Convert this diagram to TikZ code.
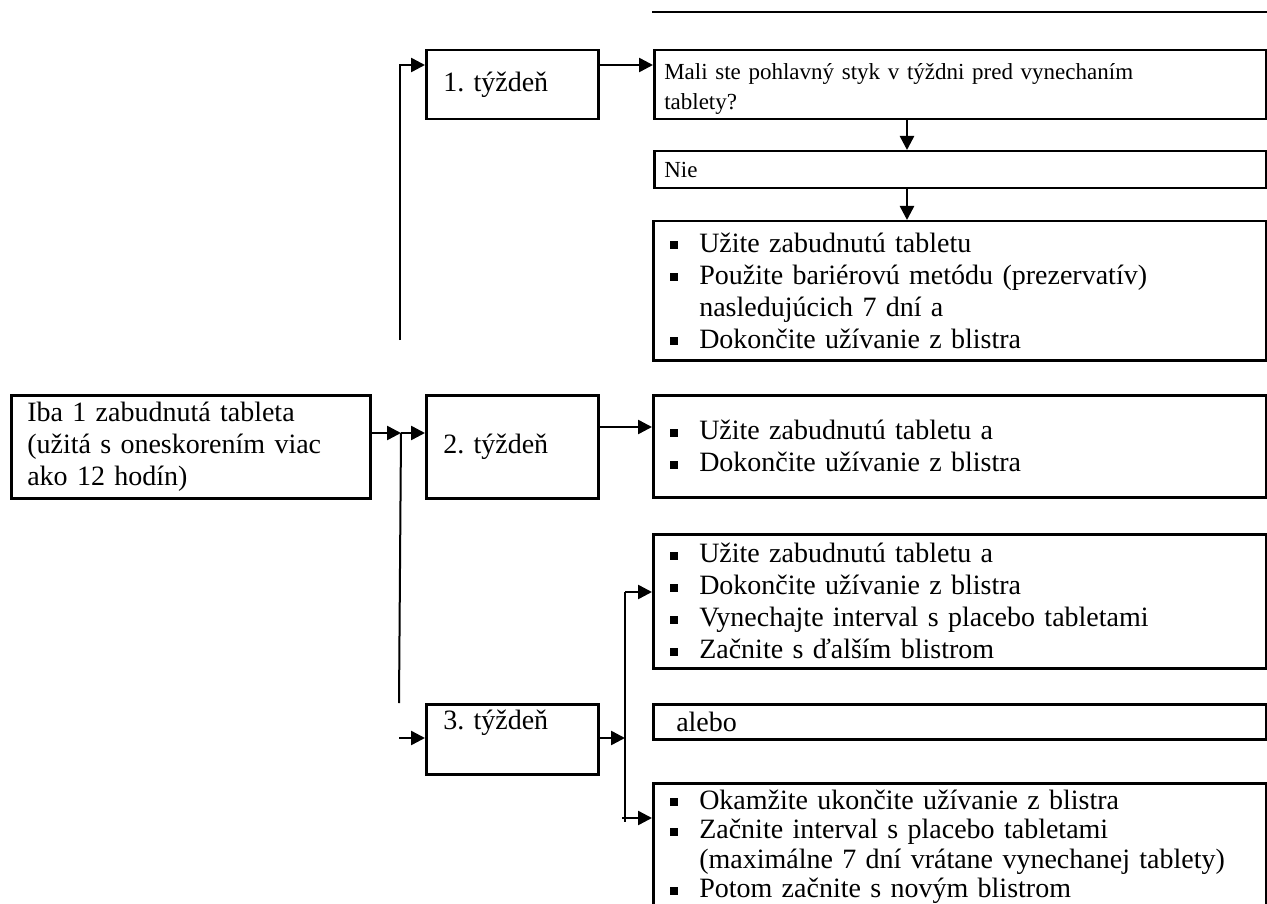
\documentclass[tikz,border=0pt]{standalone}
\usepackage{fontspec}
\setmainfont{Liberation Serif}
\usetikzlibrary{arrows.meta}

\newcommand\bul{\makebox[29pt][l]{\rule[3pt]{8pt}{8pt}}}
\newcommand\ind{\hspace*{29pt}}

\begin{document}
\frenchspacing
\begin{tikzpicture}[
x=1pt, y=-1pt,
font=\fontsize{28}{32}\selectfont,
box/.style={
draw,
line width=2.5pt,
anchor=north west,
align=left,
inner ysep=2pt,
inner xsep=17pt,
},
wide/.style={
box,
minimum width=613pt,
text width=579pt,
},
week/.style={
box,
minimum width=172pt,
text width=138pt,
},
small/.style={
box,
minimum width=612pt,
text width=592pt,
inner xsep=10pt,
font=\fontsize{23}{30}\selectfont,
},
arr/.style={line width=2.5pt, -{Triangle[length=14pt, width=14pt]}},
conn/.style={line width=2pt},
]

\useasboundingbox (0,0) rectangle (1267,904);
\clip (0,0) rectangle (1267,904);

% start
\node [box, minimum width=359pt, minimum height=103pt, text width=327pt,
inner xsep=16pt] (main) at (10,394)
{Iba 1 zabudnutá tableta\\(užitá s oneskorením viac\\ako 12 hodín)};

% weeks
\node [week, minimum height=69pt] (w1) at (425,49) {1. týždeň};
\node [week, minimum height=103pt] (w2) at (425,394) {2. týždeň};
\node [week, minimum width=171pt, minimum height=70pt, text depth=38pt] (w3) at (425,703) {3. týždeň};

% right column
\coordinate (t1) at (652,12);
\coordinate (t2) at (1267,12);
\draw [line width=2.5pt] (t1) -- (t2);

\node [small, minimum height=69pt, text height=24pt] (q) at (653,49)
{Mali ste pohlavný styk v týždni pred vynechaním\\tablety?};
\node [small, minimum height=37pt] (nie) at (653,150) {Nie};
\node [wide, minimum height=139pt] (b1) at (652,220)
{\bul Užite zabudnutú tabletu\\
\bul Použite bariérovú metódu (prezervatív)\\
\ind nasledujúcich 7 dní a\\
\bul Dokončite užívanie z blistra};
\node [wide, minimum height=102pt] (b2) at (652,394)
{\bul Užite zabudnutú tabletu a\\
\bul Dokončite užívanie z blistra};
\node [wide, minimum height=134pt] (b3a) at (652,533)
{\bul Užite zabudnutú tabletu a\\
\bul Dokončite užívanie z blistra\\
\bul Vynechajte interval s placebo tabletami\\
\bul Začnite s ďalším blistrom};
\node [wide, minimum height=35pt, text width=567pt, inner xsep=23pt] (alebo) at (652,703) {alebo};
\node [wide, minimum height=127pt, font=\fontsize{28}{29.5}\selectfont] (b3c) at (652,782)
{\bul Okamžite ukončite užívanie z blistra\\
\bul Začnite interval s placebo tabletami\\
\ind (maximálne 7 dní vrátane vynechanej tablety)\\
\bul Potom začnite s novým blistrom};

% branch points
\coordinate (ja) at (401,433);
\coordinate (jt) at (400,340);
\coordinate (jb) at (399,703);
\coordinate (jc) at (399,738);
\coordinate (r1) at (500,65);
\coordinate (r2) at (600,427);
\coordinate (v1) at (907,0);
\coordinate (k1) at (625,592);
\coordinate (k2) at (625,822);
\coordinate (k3) at (622,818);

\draw [arr] (main.east |- ja) -- (ja);
\draw [arr] (ja) -- (w2.west |- ja);
\draw [conn] (ja) -- (jb);
\draw [arr] (jt) |- (w1.west |- r1);
\draw [arr] (jc) -- (w3.west |- jc);

\draw [arr] (w1.east |- r1) -- (q.west |- r1);
\draw [arr] (q.south -| v1) -- (nie.north -| v1);
\draw [arr] (nie.south -| v1) -- (b1.north -| v1);

\draw [arr] (w2.east |- r2) -- (b2.west |- r2);

\draw [arr] (w3.east |- jc) -- (k1 |- jc);
\draw [conn] (k1) -- (k2);
\draw [arr] (k1) -- (b3a.west |- k1);
\draw [arr] (k3) -- (b3c.west |- k3);

\end{tikzpicture}
\end{document}
